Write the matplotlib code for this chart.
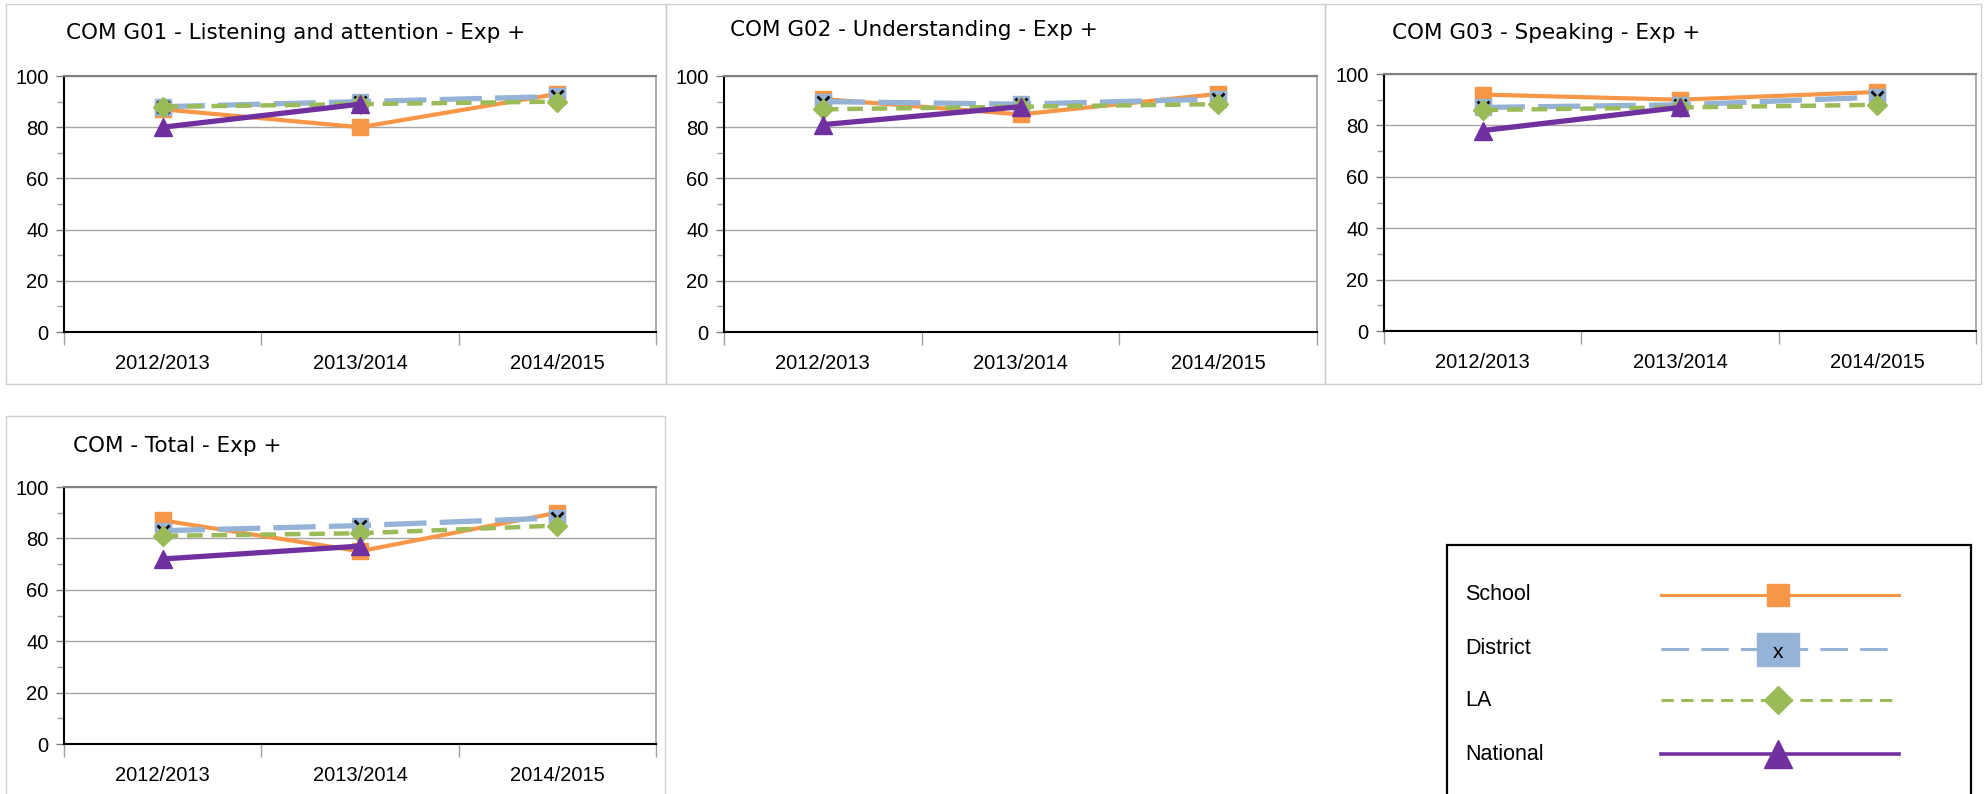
import matplotlib
matplotlib.use("Agg")
import matplotlib.pyplot as plt
from matplotlib.lines import Line2D
from matplotlib.patches import Rectangle

plt.rcParams['font.family'] = ['Liberation Sans', 'DejaVu Sans']

W, H = 1986, 794

years = ["2012/2013", "2013/2014", "2014/2015"]
titles = ["COM G01 - Listening and attention - Exp +",
          "COM G02 - Understanding - Exp +",
          "COM G03 - Speaking - Exp +",
          "COM - Total - Exp +"]
series_names = ["School", "District", "LA", "National"]

# values per panel (G01, G02, G03, Total)
school = [[87, 80, 93], [91, 85, 93], [92, 90, 93], [87, 75, 90]]
district = [[88, 90, 92], [90, 89, 91], [87, 88, 91], [83, 85, 88]]
la = [[88, 89, 90], [87, 88, 89], [86, 87, 88], [81, 82, 85]]
national = [[80, 89], [81, 88], [78, 87], [72, 77]]

ORANGE = "#F79646"
BLUE = "#95B3D7"
GREEN = "#9BBB59"
PURPLE = "#7030A0"


def fbox(l, t, r, b):
    return [l / W, 1 - b / H, (r - l) / W, (b - t) / H]


def fx(x):
    return x / W


def fy(y):
    return 1 - y / H


fig = plt.figure(figsize=(W / 100, H / 100), dpi=100)

# panel frames (left, top, right, bottom in px)
frames = [(6, 4, 666, 384), (666, 4, 1325, 384), (1325, 4, 1981, 384), (6, 416, 665, 800)]
for l, t, r, b in frames:
    fig.add_artist(Rectangle((fx(l), fy(b)), (r - l) / W, (b - t) / H,
                             transform=fig.transFigure, fill=False, ec="#D0D0D0", lw=1))

axes_px = [(64, 76, 656, 332), (724, 76, 1317, 332), (1384, 74, 1976, 331), (64, 487, 656, 744)]
title_px = [(66, 33), (730, 30), (1392, 33), (73, 446)]

for i, (l, t, r, b) in enumerate(axes_px):
    ax = fig.add_axes(fbox(l, t, r, b))
    x = [0.5, 1.5, 2.5]
    ax.plot(x, school[i], color=ORANGE, lw=3.0, marker='s', ms=11, zorder=3)
    ax.plot(x, district[i], color=BLUE, lw=3.8, dashes=(8, 2.5), marker='s', ms=11, zorder=4)
    ax.plot(x, district[i], ls='none', marker='x', color='black', ms=9, mew=2.0, zorder=4.5)
    ax.plot(x, la[i], color=GREEN, lw=3.2, dashes=(3.5, 2), marker='D', ms=10, zorder=5)
    ax.plot(x[:len(national[i])], national[i], color=PURPLE, lw=3.8, marker='^', ms=13, zorder=6)

    ax.set_xlim(0, 3)
    ax.set_ylim(0, 100)
    ax.set_yticks(range(0, 101, 20))
    ax.set_yticks(range(10, 100, 20), minor=True)
    ax.set_xticks([0, 1, 2, 3])
    ax.set_xticklabels([])
    ax.set_xticks(x, minor=True)
    ax.set_xticklabels(years, minor=True)
    ax.tick_params(axis='x', which='major', length=9, color="#A0A0A0", width=1)
    ax.tick_params(axis='x', which='minor', length=0, pad=16, labelsize=14.5)
    ax.tick_params(axis='y', which='major', length=6, color="#808080", width=1, pad=5, labelsize=14.5)
    ax.tick_params(axis='y', which='minor', length=5, color="#A0A0A0", width=1)
    ax.grid(axis='y', which='major', color="#A6A6A6", lw=1)
    ax.set_axisbelow(True)
    ax.spines['left'].set_color('black')
    ax.spines['bottom'].set_color('black')
    ax.spines['left'].set_linewidth(1.5)
    ax.spines['bottom'].set_linewidth(1.5)
    ax.spines['top'].set_color('#808080')
    ax.spines['top'].set_linewidth(1.5)
    ax.spines['right'].set_color('#A0A0A0')
    ax.spines['right'].set_linewidth(1.2)

    tx, ty = title_px[i]
    fig.text(fx(tx), fy(ty), titles[i], fontsize=15.5, ha='left', va='center',
             family=['DejaVu Sans'])

# legend box
fig.add_artist(Rectangle((fx(1447), fy(800)), (1971 - 1447) / W, (800 - 545) / H,
                         transform=fig.transFigure, fill=False, ec="black", lw=1.6))

leg_rows = [595, 649, 700, 754]
leg_styles = [
    dict(color=ORANGE, lw=2.2, ls='-'),
    dict(color=BLUE, lw=2.2, dashes=(9, 4)),
    dict(color=GREEN, lw=2.2, dashes=(4, 2.5)),
    dict(color=PURPLE, lw=2.6, ls='-'),
]
leg_markers = [
    dict(marker='s', ms=15.5, color=ORANGE),
    None,
    dict(marker='D', ms=14, color=GREEN),
    dict(marker='^', ms=20, color=PURPLE),
]
for name, y, st, mk in zip(series_names, leg_rows, leg_styles, leg_markers):
    fig.text(fx(1465), fy(y), name, fontsize=15.5, ha='left', va='center')
    fig.add_artist(Line2D([fx(1661), fx(1899)], [fy(y), fy(y)], transform=fig.transFigure, **st))
    if mk is None:
        fig.add_artist(Rectangle((fx(1757), fy(y + 17)), 42 / W, 33 / H,
                                 transform=fig.transFigure, fc=BLUE, ec=BLUE, zorder=3))
        fig.text(fx(1778), fy(y + 3), "x", fontsize=15, ha='center', va='center', zorder=4)
    else:
        fig.add_artist(Line2D([fx(1778)], [fy(y)], transform=fig.transFigure, ls='none',
                              marker=mk['marker'], ms=mk['ms'], color=mk['color'], mec=mk['color']))

fig.savefig("out.png", dpi=100)
